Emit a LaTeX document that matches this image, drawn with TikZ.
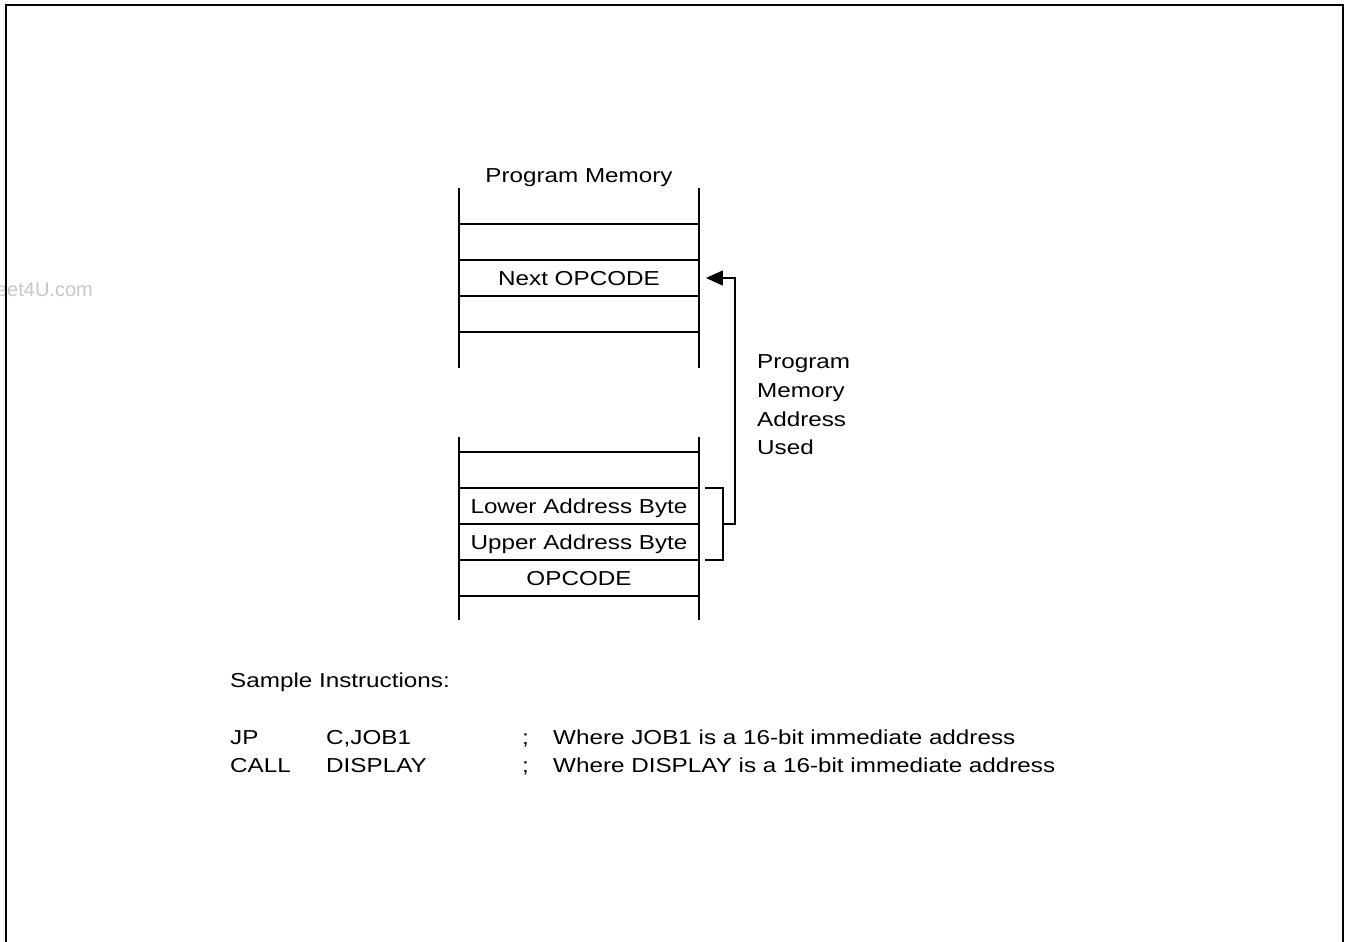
\documentclass[tikz,border=0pt]{standalone}
\usepackage{fontspec}
\setmainfont{Liberation Sans}[FakeStretch=1.2]
\newfontfamily\markfont{Liberation Sans}
\usetikzlibrary{arrows,arrows.meta,calc,matrix,positioning}

\tikzset{
  lbl/.style={font=\fontsize{20.2}{28.6}\selectfont, inner sep=0pt},
  cell/.style={lbl, minimum width=239.5pt, minimum height=36pt, text height=14.5pt, text depth=0pt},
  wall/.style={line width=1.6pt},
  link/.style={line width=1.5pt},
}

\begin{document}
\begin{tikzpicture}[x=1pt, y=-1pt]

  \useasboundingbox (0,0) rectangle (1350,942) ;

  % watermark, cut off at the page edge
  \begin{scope}
    \clip (0,0) rectangle (1350,942) ;
    \node [font=\markfont\fontsize{20}{24}\selectfont, text=black!22, inner sep=0pt, anchor=base east] (mark) at (93,296) {Sheet4U.com} ;
  \end{scope}

  \draw [line width=2.2pt] (6,942) |- (1343,5) -- (1343,942) ;

  \matrix (top) [matrix of nodes, nodes in empty cells, nodes={cell}, row sep=0pt] at (579,278)
  %
  { \\ \\ Next OPCODE \\ \\ \\ } ;

  \matrix (bot) [matrix of nodes, nodes in empty cells, nodes={cell}, row sep=0pt] at (579,524)
  %
  { \\ Lower Address Byte \\ Upper Address Byte \\ OPCODE \\ } ;

  \node [lbl, anchor=base] (title) at ($(top-1-1.north)+(0,-5)$) {Program Memory} ;

  \foreach \r in {1,...,4}
    \draw [wall] (top-\r-1.south west) -- (top-\r-1.south east) ;

  \draw [wall] (top-1-1.north west) -- (top-5-1.south west) ;

  \draw [wall] (top-1-1.north east) -- (top-5-1.south east) ;

  \foreach \r in {1,...,4}
    \draw [wall] (bot-\r-1.north west) -- (bot-\r-1.north east) ;

  \draw [wall] (bot-4-1.south west) -- (bot-4-1.south east) ;

  \draw [wall] ($(bot-1-1.north west)+(0,-15)$) -- ($(bot-4-1.south west)+(0,24)$) ;

  \draw [wall] ($(bot-1-1.north east)+(0,-15)$) -- ($(bot-4-1.south east)+(0,24)$) ;

  % bracket round the two address bytes
  \draw [link] ($(bot-2-1.north east)+(6,0)$) -| ($(bot-3-1.south east)+(24,0)$) -- ($(bot-3-1.south east)+(6,0)$) ;

  \coordinate (used) at ($(bot-2-1.south east)+(24,0)$) ;

  \draw [link, -{Triangle[length=17pt, width=15pt]}] (used) -- ++(12,0) |- ([xshift=7pt]top-3-1.east) ;

  \node [lbl, align=left, anchor=west] (usedlbl) at (757,405) {Program\\Memory\\Address\\Used} ;

  % sample code
  \node [lbl, anchor=base west] (sample) at (230,687) {Sample Instructions:} ;

  \node [lbl, anchor=base west] (jp) at (230,744) {JP} ;

  \node [lbl, anchor=base west] (jparg) at (326,744) {C,JOB1} ;

  \node [lbl, anchor=base west] (jpsemi) at (522,744) {;} ;

  \node [lbl, anchor=base west] (jpnote) at (553,744) {Where JOB1 is a 16-bit immediate address} ;

  \node [lbl, anchor=base west] (call) at (230,772) {CALL} ;

  \node [lbl, anchor=base west] (callarg) at (326,772) {DISPLAY} ;

  \node [lbl, anchor=base west] (callsemi) at (522,772) {;} ;

  \node [lbl, anchor=base west] (callnote) at (553,772) {Where DISPLAY is a 16-bit immediate address} ;

\end{tikzpicture}
\end{document}
